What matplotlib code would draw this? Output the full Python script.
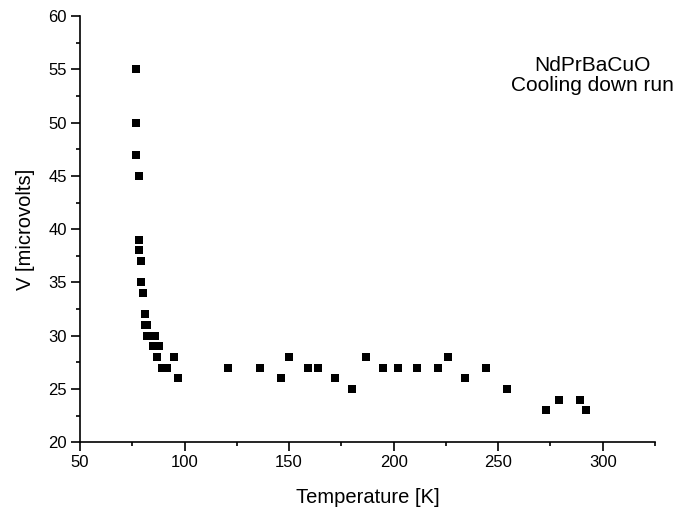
import matplotlib
matplotlib.use("Agg")
import matplotlib.pyplot as plt
from matplotlib.ticker import MultipleLocator

plt.rcParams['font.family'] = ['Liberation Sans', 'DejaVu Sans']

temperature = [77, 77, 77, 78, 78, 78, 79, 79, 80, 81, 81, 82, 82, 84, 86, 85, 88, 87, 95,
               89, 91.5, 97,
               121, 136, 146, 150, 159, 164, 172, 180, 187, 195, 202, 211, 221, 226,
               234, 244, 254, 273, 279, 289, 292]
voltage = [55, 50, 47, 45, 39, 38, 37, 35, 34, 32, 31, 31, 30, 30, 30, 29, 29, 28, 28,
           27, 27, 26,
           27, 27, 26, 28, 27, 27, 26, 25, 28, 27, 27, 27, 27, 28,
           26, 27, 25, 23, 24, 24, 23]

x_label = "Temperature [K]"
y_label = "V [microvolts]"
annotation_lines = ["NdPrBaCuO", "Cooling down run"]

W, H = 677, 518
fig = plt.figure(figsize=(W/100, H/100), dpi=100)
ax = fig.add_axes([80/W, (H-442.3)/H, (655-80)/W, (442.3-16)/H])

ax.plot(temperature, voltage, linestyle='none', marker='s', markersize=6,
        color='black', markeredgewidth=0)

ax.set_xlim(50, 325)
ax.set_ylim(20, 60)
ax.xaxis.set_major_locator(MultipleLocator(50))
ax.xaxis.set_minor_locator(MultipleLocator(25))
ax.yaxis.set_major_locator(MultipleLocator(5))
ax.yaxis.set_minor_locator(MultipleLocator(2.5))
for s in ['top', 'right']:
    ax.spines[s].set_visible(False)
for s in ['left', 'bottom']:
    ax.spines[s].set_linewidth(1.2)
ax.tick_params(which='major', direction='out', length=6.5, width=1.2, labelsize=12, pad=3)
ax.tick_params(which='minor', direction='out', length=3, width=1.2)
ax.set_xlabel(x_label, fontsize=14.5, labelpad=12.5)
ax.set_ylabel(y_label, fontsize=14.5, labelpad=9.5)

fig.text(592/W, 1 - 71/H, annotation_lines[0], ha='center', va='baseline', fontsize=15)
fig.text(592/W, 1 - 91/H, annotation_lines[1], ha='center', va='baseline', fontsize=15)

fig.savefig("out.png", dpi=100)
